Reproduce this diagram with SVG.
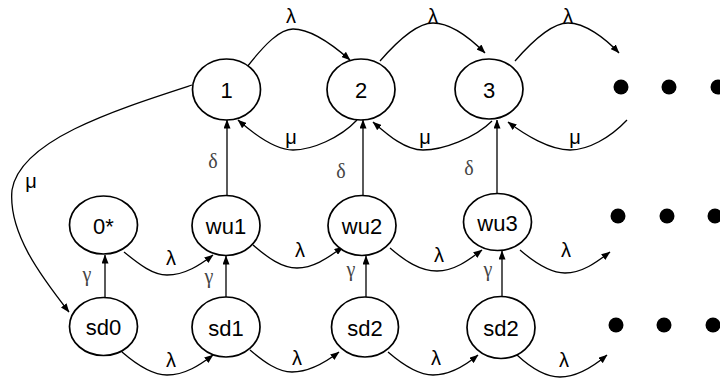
<svg xmlns="http://www.w3.org/2000/svg" width="720" height="378" viewBox="0 0 720 378">
<defs>
<marker id="ah" markerWidth="9" markerHeight="7" refX="8.5" refY="3.5" orient="auto" markerUnits="userSpaceOnUse">
<path d="M0,0 L9,3.5 L0,7 z" fill="#000"/>
</marker>
<style>
.node ellipse{fill:#fff;stroke:#000;stroke-width:1.7}
.node text{font-family:"Liberation Sans",Arial,sans-serif;font-size:22px;text-anchor:middle;fill:#000}
.edges path,.edges line{fill:none;stroke:#000;stroke-width:1.3}
.arr{marker-end:url(#ah)}
.lam{font-family:"Liberation Sans",Arial,sans-serif;font-size:20px;text-anchor:middle;fill:#000}
.gr{font-family:"Liberation Serif","Times New Roman",serif;font-size:20px;text-anchor:middle;fill:#444}
.dot{fill:#000}
</style>
</defs>
<rect width="720" height="378" fill="#fff"/>
<g class="edges">
<path class="arr" d="M247,67 C265,44 280,29 293,29 C312,29 333,45 350,60"/>
<path class="arr" d="M380,61 C400,38 418,23 433,23 C450,23 470,38 485,53"/>
<path class="arr" d="M515,61 C535,38 553,23 568,23 C585,23 605,38 619,53"/>
<path class="arr" d="M357,120 C340,138 312,150 293,150 C275,150 255,135 238,120"/>
<path class="arr" d="M492,121 C475,138 443,150 423,150 C405,150 388,135 373,122"/>
<path class="arr" d="M627,120 C610,138 588,150 570,150 C550,150 525,135 508,122"/>
<path class="arr" d="M192,85 C115,110 20,140 12,190 C8,232 40,275 69,312"/>
<line class="arr" x1="227" y1="195" x2="227" y2="120"/>
<line class="arr" x1="363" y1="195" x2="363" y2="120"/>
<line class="arr" x1="497" y1="194" x2="497" y2="120"/>
<line class="arr" x1="105" y1="297" x2="105" y2="255"/>
<line class="arr" x1="226" y1="297" x2="226" y2="256"/>
<line class="arr" x1="366" y1="297" x2="366" y2="256"/>
<line class="arr" x1="502" y1="296" x2="502" y2="251"/>
<path class="arr" d="M124,252 C140,265 153,275 167,275 C185,275 200,265 213,255"/>
<path class="arr" d="M253,245 C268,258 282,268 297,268 C315,268 330,256 343,247"/>
<path class="arr" d="M390,248 C405,261 420,271 437,271 C455,271 470,259 482,250"/>
<path class="arr" d="M520,250 C535,263 550,273 565,273 C583,273 598,261 610,252"/>
<path class="arr" d="M122,352 C137,365 152,375 167,375 C185,375 200,365 213,355"/>
<path class="arr" d="M250,350 C264,362 278,372 292,372 C310,372 326,362 339,352"/>
<path class="arr" d="M388,352 C403,365 418,375 433,375 C451,375 466,365 478,355"/>
<path class="arr" d="M517,355 C531,368 546,377 560,377 C578,377 594,366 607,355"/>
</g>
<g id="labels">
<text class="lam" x="291" y="23">λ</text>
<text class="lam" x="433" y="23">λ</text>
<text class="lam" x="568" y="23">λ</text>
<text class="lam" x="291" y="144">μ</text>
<text class="lam" x="425" y="144">μ</text>
<text class="lam" x="575" y="144">μ</text>
<text class="lam" x="31" y="188">μ</text>
<text class="gr" x="213" y="168">δ</text>
<text class="gr" x="341" y="178">δ</text>
<text class="gr" x="469" y="175">δ</text>
<text class="gr" x="87" y="281">γ</text>
<text class="gr" x="209" y="283">γ</text>
<text class="gr" x="351" y="276">γ</text>
<text class="gr" x="488" y="276">γ</text>
<text class="lam" x="171" y="265">λ</text>
<text class="lam" x="300" y="257">λ</text>
<text class="lam" x="439" y="262">λ</text>
<text class="lam" x="566" y="257">λ</text>
<text class="lam" x="171" y="367">λ</text>
<text class="lam" x="297" y="365">λ</text>
<text class="lam" x="436" y="365">λ</text>
<text class="lam" x="564" y="367">λ</text>
</g>
<g id="n1" class="node"><ellipse cx="226.5" cy="89.5" rx="34" ry="30.5"/><text x="226.5" y="98">1</text></g>
<g id="n2" class="node"><ellipse cx="361" cy="89.5" rx="34" ry="30.5"/><text x="361" y="98">2</text></g>
<g id="n3" class="node"><ellipse cx="489" cy="89" rx="34" ry="30"/><text x="489" y="97.5">3</text></g>
<g id="n0s" class="node"><ellipse cx="103.5" cy="225" rx="34" ry="29"/><text x="103.5" y="233.5">0*</text></g>
<g id="wu1" class="node"><ellipse cx="226" cy="225.5" rx="34" ry="30"/><text x="226" y="234">wu1</text></g>
<g id="wu2" class="node"><ellipse cx="362" cy="225.5" rx="34" ry="30"/><text x="362" y="234">wu2</text></g>
<g id="wu3" class="node"><ellipse cx="497.5" cy="222" rx="34" ry="28.5"/><text x="497.5" y="231">wu3</text></g>
<g id="sd0" class="node"><ellipse cx="103.5" cy="326.5" rx="34" ry="29"/><text x="103.5" y="335">sd0</text></g>
<g id="sd1" class="node"><ellipse cx="226" cy="327" rx="34" ry="30"/><text x="226" y="335.5">sd1</text></g>
<g id="sd2" class="node"><ellipse cx="365" cy="327" rx="33.5" ry="30"/><text x="365" y="335.5">sd2</text></g>
<g id="sd2b" class="node"><ellipse cx="501" cy="327.5" rx="34" ry="31"/><text x="501" y="336">sd2</text></g>
<g id="dots">
<circle class="dot" cx="621" cy="87" r="7.5"/>
<circle class="dot" cx="669" cy="87" r="7.5"/>
<circle class="dot" cx="718" cy="87" r="7.5"/>
<circle class="dot" cx="618" cy="216" r="7.5"/>
<circle class="dot" cx="667" cy="216" r="7.5"/>
<circle class="dot" cx="715" cy="216" r="7.5"/>
<circle class="dot" cx="616" cy="325" r="7.5"/>
<circle class="dot" cx="664" cy="325" r="7.5"/>
<circle class="dot" cx="713" cy="325" r="7.5"/>
</g>
</svg>
